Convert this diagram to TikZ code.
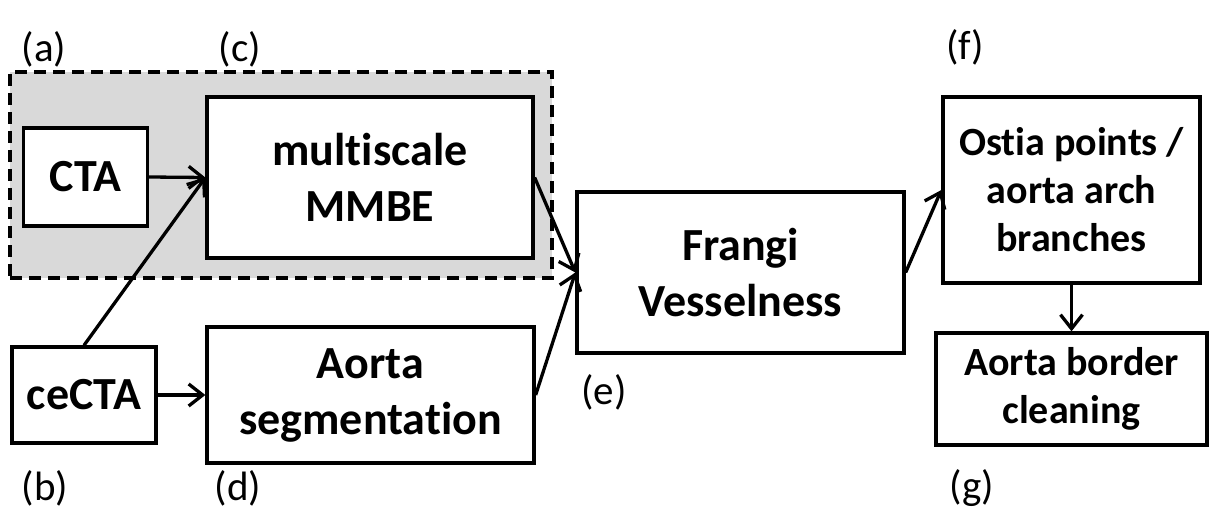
\documentclass[tikz,border=0pt]{standalone}
\usepackage{fontspec}
\setmainfont{Carlito}[Ligatures=NoCommon]
\usetikzlibrary{arrows.meta}
\begin{document}
\begin{tikzpicture}[x=1pt,y=-1pt,
  box/.style={draw, line width=3.3pt, fill=white, inner sep=0pt, align=center,
    font=\fontsize{46}{56}\selectfont\bfseries},
  smallbox/.style={box, font=\fontsize{40}{48}\selectfont\bfseries},
  lbl/.style={inner sep=0pt, font=\fontsize{41}{48}\selectfont},
  arr/.style={line width=3.3pt, -{Straight Barb[length=14pt,width=22pt,line width=3.3pt]}},
]
\useasboundingbox (0,0) rectangle (1211,516);
\node[draw, dash pattern=on 12pt off 7pt, line width=3.3pt, fill=gray!30,
  minimum width=542pt, minimum height=206pt, inner sep=0pt] (group) at (281,175) {};
\node[box, minimum width=124pt, minimum height=98pt] (cta) at (85.5,177) {CTA};
\node[box, minimum width=326pt, minimum height=161pt] (mmbe) at (370,177.5) {multiscale\\MMBE};
\node[box, minimum width=144pt, minimum height=96pt] (cecta) at (84,395) {ceCTA};
\node[box, minimum width=327pt, minimum height=136pt] (seg) at (370.5,395) {Aorta\\segmentation};
\node[box, minimum width=327pt, minimum height=161pt] (frangi) at (740.5,272.5) {Frangi\\Vesselness};
\node[smallbox, minimum width=257pt, minimum height=186pt] (ostia) at (1071.5,190) {Ostia points /\\aorta arch\\branches};
\node[smallbox, minimum width=271pt, minimum height=112pt] (border) at (1071.5,389) {Aorta border\\cleaning};

\node[lbl] (la) at (44,49) {(a)};
\node[lbl] (lc) at (240,49) {(c)};
\node[lbl] (lb) at (45,488) {(b)};
\node[lbl] (ld) at (238,488) {(d)};
\node[lbl] (le) at (604,392) {(e)};
\node[lbl] (lf) at (965,47) {(f)};
\node[lbl] (lg) at (972,488) {(g)};

\draw[arr] (cta.east) -- (mmbe.west);
\draw[arr] (cecta.north) -- (mmbe.west);
\draw[arr] (cecta.east) -- (seg.west);
\draw[arr] (mmbe.east) -- (frangi.west);
\draw[arr] (seg.east) -- (frangi.west);
\draw[arr] (frangi.east) -- (ostia.west);
\draw[arr] (ostia.south) -- (border.north);
\end{tikzpicture}
\end{document}
